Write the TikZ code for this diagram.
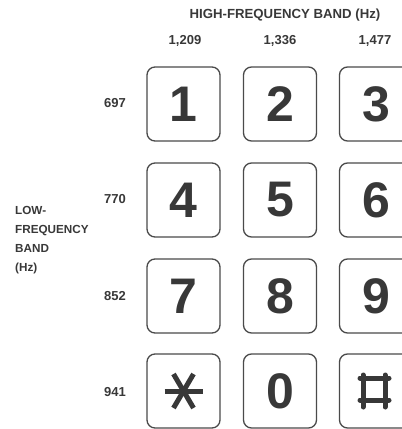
\documentclass[tikz,border=0pt]{standalone}
\usepackage{fontspec}
\setmainfont{Liberation Sans}
\usetikzlibrary{positioning}
\definecolor{Ink}{HTML}{383838}
\definecolor{Frame}{HTML}{4A4A4A}
\tikzset{
    key/.style={draw=Frame, line width=1.3pt, rounded corners=8pt,
        minimum width=73pt, minimum height=74pt, inner sep=0pt,
        text=Ink, font=\bfseries\fontsize{50}{50}\selectfont},
    band/.style={font=\bfseries\fontsize{13.2}{19}\selectfont, text=Ink, inner sep=0pt},
    side/.style={font=\bfseries\fontsize{11.7}{19}\selectfont, text=Ink, inner sep=0pt},
    freq/.style={font=\bfseries\fontsize{13}{13}\selectfont, text=Ink, inner sep=0pt},
    sign/.style={Ink, line width=5pt}
}
\NewDocumentCommand{\StarSign}{O{(0,0)}}{
    \begin{scope}[shift={#1}]
    \draw[sign] (-19,0) -- (19,0);
    \draw[sign] (-10,-17) -- (10,17);
    \draw[sign] (-10,17) -- (10,-17);
    \end{scope}
}
\NewDocumentCommand{\HashSign}{O{(0,0)}}{
    \begin{scope}[shift={#1}, line cap=round]
    \draw[sign] (-13,-16) -- (-13,16);
    \draw[sign] ( 9,-16) -- ( 9,16);
    \draw[sign] (-16,-13) -- (13,-13);
    \draw[sign] (-16, 9) -- (13, 9);
    \end{scope}
}

\begin{document}
\begin{tikzpicture}[x=1pt, y=-1pt]
\useasboundingbox (0,0) rectangle (402,429);

% header
\node[band] (high-band) at (285,15) {HIGH-FREQUENCY BAND (Hz)};
\node[freq] (col-a) at (185,41) {1,209};
\node[freq] (col-b) at (280,41) {1,336};
\node[freq] (col-c) at (375,41) {1,477};

% low band side
\node[side, anchor=north west, align=left] (low-band) at (15,206)
    {LOW-\\FREQUENCY\\BAND\\(Hz)};
\node[freq, anchor=east] (row-a) at (126,103) {697};
\node[freq, anchor=east] (row-b) at (126,199) {770};
\node[freq, anchor=east] (row-c) at (126,296) {852};
\node[freq, anchor=east] (row-d) at (126,392) {941};

% keys
\node[key] (key-1) at (183.5,104) {1};
\node[key] (key-2) at (280,104) {2};
\node[key] (key-3) at (376,104) {3};
\node[key] (key-4) at (183.5,200) {4};
\node[key] (key-5) at (280,200) {5};
\node[key] (key-6) at (376,200) {6};
\node[key] (key-7) at (183.5,296) {7};
\node[key] (key-8) at (280,296) {8};
\node[key] (key-9) at (376,296) {9};
\node[key] (key-star) at (183.5,391) {};
\node[key] (key-0) at (280,391) {0};
\node[key] (key-hash) at (376,391) {};

\StarSign[(key-star)]
\HashSign[(key-hash)]
\end{tikzpicture}
\end{document}
